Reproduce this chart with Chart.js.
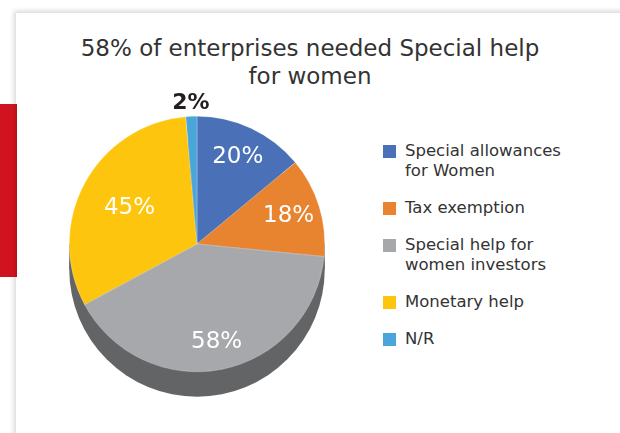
<!DOCTYPE html>
<html>
<head>
<meta charset="utf-8">
<script src="https://cdn.jsdelivr.net/npm/chart.js@4"></script>
<style>
    html, body {
        margin: 0;
        padding: 0;
        width: 620px;
        height: 433px;
        overflow: hidden;
        background: #ffffff;
        font-family: "DejaVu Sans", sans-serif;
    }
    .card {
        position: absolute;
        left: 16px;
        top: 13px;
        width: 640px;
        height: 460px;
        background: #ffffff;
        box-shadow: -2px -2px 5px rgba(0, 0, 0, 0.16);
    }
    .red-bar {
        position: absolute;
        left: 0;
        top: 104px;
        width: 17px;
        height: 173px;
        background: linear-gradient(to right, #d0131e 0%, #cf131e 75%, #b4121b 100%);
    }
    #title {
        position: absolute;
        left: 0;
        top: 34px;
        width: 620px;
        text-align: center;
        font-size: 23px;
        line-height: 28px;
        color: #333333;
    }
    #chart {
        position: absolute;
        left: 37px;
        top: 80px;
    }
    #legend {
        position: absolute;
        left: 383px;
        top: 141px;
        width: 230px;
    }
    .legend-item {
        display: flex;
        align-items: flex-start;
        margin-bottom: 17px;
        font-size: 16.5px;
        line-height: 20px;
        color: #333333;
    }
    .legend-item .swatch {
        width: 13px;
        height: 13px;
        margin-top: 4px;
        margin-right: 9px;
        flex: none;
    }
</style>
</head>
<body>
<div class="card"></div>
<div class="red-bar"></div>
<div id="title">58% of enterprises needed Special help<br>for women</div>
<canvas id="chart" width="320" height="340"></canvas>
<div id="legend"></div>

<script>
    // Categories (legend lines) and their shares
    const categories = [
        ["Special allowances", "for Women"],
        ["Tax exemption"],
        ["Special help for", "women investors"],
        ["Monetary help"],
        ["N/R"]
    ];
    const shares = [20, 18, 58, 45, 2];
    const sliceColors = ["#4a71b8", "#e8832f", "#a7a8ab", "#fec50f", "#4aa5da"];

    // Legend built from the same arrays
    const legend = document.getElementById("legend");
    legend.innerHTML = categories
        .map((lines, i) => `<div class="legend-item"><span class="swatch" style="background:${sliceColors[i]}"></span><span>${lines.join("<br>")}</span></div>`)
        .join("");

    // Dark side wall under the pie, gives it a raised look
    const pieWall = {
        id: "pieWall",
        beforeDatasetsDraw(chart, args, opts) {
            const arc = chart.getDatasetMeta(0).data[0];
            if (!arc) return;
            const { x, y, outerRadius: r } = arc.getProps(["x", "y", "outerRadius"], true);
            const ctx = chart.ctx;
            ctx.save();
            ctx.fillStyle = opts.color;
            ctx.beginPath();
            ctx.arc(x, y + opts.depth, r, 0, Math.PI * 2);
            ctx.fill();
            ctx.fillRect(x - r, y, r * 2, opts.depth);
            ctx.restore();
        }
    };

    // Percent labels on the slices
    const sliceLabels = {
        id: "sliceLabels",
        afterDatasetsDraw(chart, args, opts) {
            const ctx = chart.ctx;
            const values = chart.data.datasets[0].data;
            ctx.save();
            ctx.textAlign = "center";
            ctx.textBaseline = "middle";
            chart.getDatasetMeta(0).data.forEach((arc, i) => {
                const p = arc.getProps(["x", "y", "startAngle", "endAngle", "outerRadius"], true);
                const mid = (p.startAngle + p.endAngle) / 2;
                const outside = opts.outside.includes(i);
                const rad = p.outerRadius * opts.radius[i];
                ctx.font = outside ? "bold 22px 'DejaVu Sans'" : "23px 'DejaVu Sans'";
                ctx.fillStyle = outside ? "#231f20" : "#ffffff";
                ctx.fillText(values[i] + "%", p.x + Math.cos(mid) * rad, p.y + Math.sin(mid) * rad);
            });
            ctx.restore();
        }
    };

    new Chart(document.getElementById("chart").getContext("2d"), {
        type: "pie",
        data: {
            labels: categories.map(l => l.join(" ")),
            datasets: [{
                data: shares,
                backgroundColor: sliceColors,
                borderColor: "rgba(255,255,255,0.5)",
                borderWidth: 0.5
            }]
        },
        options: {
            responsive: false,
            animation: false,
            events: [],
            layout: {
                padding: { left: 32, top: 36, right: 32, bottom: 48 }
            },
            plugins: {
                legend: { display: false },
                tooltip: { enabled: false },
                title: { display: false },
                pieWall: { color: "#636466", depth: 25 },
                sliceLabels: { radius: [0.75, 0.75, 0.78, 0.6, 1.1], outside: [4] }
            }
        },
        plugins: [pieWall, sliceLabels]
    });
</script>
</body>
</html>
